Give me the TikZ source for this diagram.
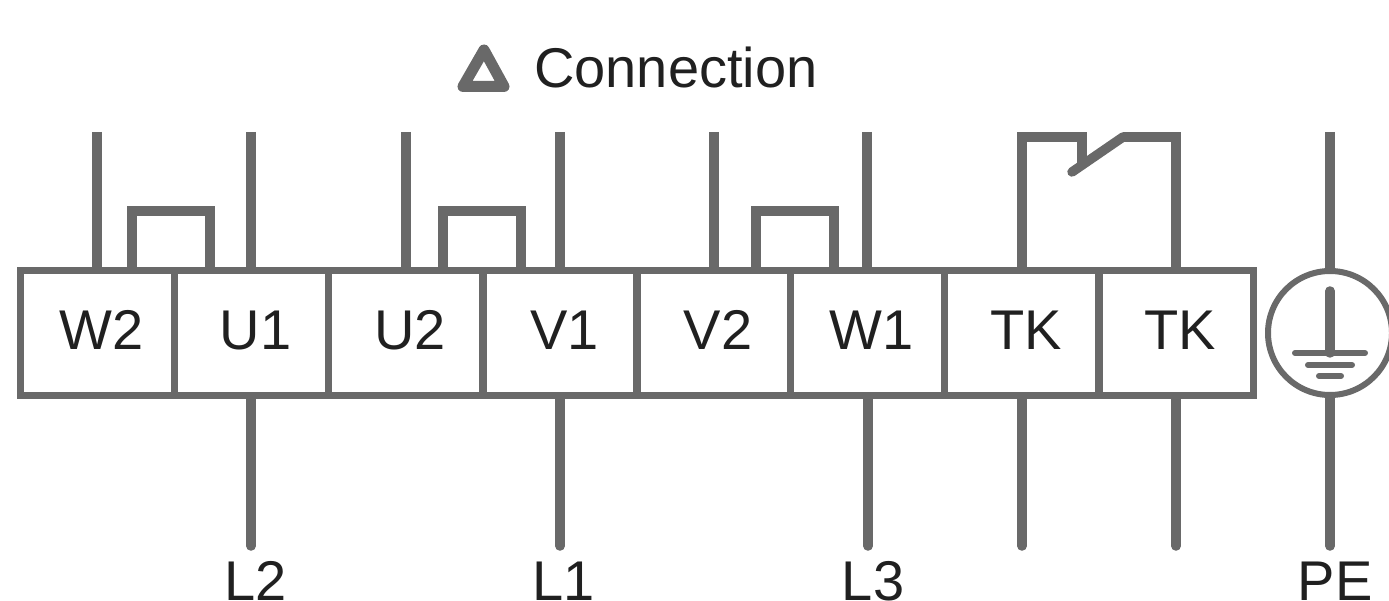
\documentclass[tikz,border=0pt]{standalone}
\usepackage{fontspec}
\setmainfont{Liberation Sans}
\definecolor{wire}{RGB}{105,105,105}
\definecolor{ink}{RGB}{32,32,32}
\begin{document}
\begin{tikzpicture}[x=1pt,y=-1pt,
  wirel/.style={draw=wire,line width=9.5pt},
  earthbar/.style={draw=wire,line width=6pt},
  term/.style={draw=wire,line width=7pt,minimum width=154pt,minimum height=125pt,inner sep=0pt,text=ink,text height=34pt,text depth=0pt,font=\fontsize{56}{56}\selectfont},
  lab/.style={text=ink,font=\fontsize{56}{56}\selectfont,inner sep=0pt},
  ]
\useasboundingbox (0,0) rectangle (1389,601);
\clip (0,0) rectangle (1389,601);
\foreach \n/\t/\x in {a/W2/97,b/U1/251,c/U2/405.5,d/V1/560,e/V2/713.5,f/W1/867,g/TK/1021.5,h/TK/1176}{
  \node[term] (\n) at (\x,333) {\hspace*{9pt}\t};
}
\foreach \n/\x in {a/97,b/251,c/406,d/560,e/714,f/867}{
  \coordinate (t\n) at (\x,132);
  \draw[wirel] (t\n) -- (\x,270);
}
\foreach \x/\w in {132/78,443/78,756/78}{
  \draw[wirel] (\x,270) -- (\x,211) -- (\x+\w,211) -- (\x+\w,270);
}
\draw[wirel] (1022,270) -- (1022,137) -- (1082,137) -- (1082,165);
\draw[wirel,line join=round,line cap=round] (1072,172) -- (1123,137) -- (1172,137);
\draw[wirel] (1123,137) -- (1176,137) -- (1176,270);
\node[circle,draw=wire,line width=6pt,minimum size=124pt,inner sep=0pt] (pe) at (1330,333) {};
\coordinate (petop) at (1330,132);
\coordinate (pebot) at (1330,546);
\draw[wirel] (petop) -- (pe.north);
\draw[wirel,line cap=round] (pe.south) -- (pebot);
\draw[wirel,line cap=round] (1330,291) -- (1330,353);
\draw[earthbar,line cap=round] (1295,353) -- (1365,353);
\draw[earthbar,line cap=round] (1308,365) -- (1352,365);
\draw[earthbar,line cap=round] (1319,376) -- (1341,376);
\foreach \n/\x in {b/251,d/560,f/868,g/1022,h/1176}{
  \coordinate (e\n) at (\x,546);
  \draw[wirel,line cap=round] (\x,398) -- (e\n);
}
\node[lab,anchor=base] (l2) at (256,600) {L2};
\node[lab,anchor=base] (l1) at (564,600) {L1};
\node[lab,anchor=base] (l3) at (873,600) {L3};
\node[lab,anchor=base] (lpe) at (1335,600) {PE};
\draw[draw=wire,line width=11pt,line join=round] (484,50) -- (504,86.5) -- (463,86.5) -- cycle;
\node[lab,anchor=west] (conn) at (534,67) {Connection};
\end{tikzpicture}
\end{document}
